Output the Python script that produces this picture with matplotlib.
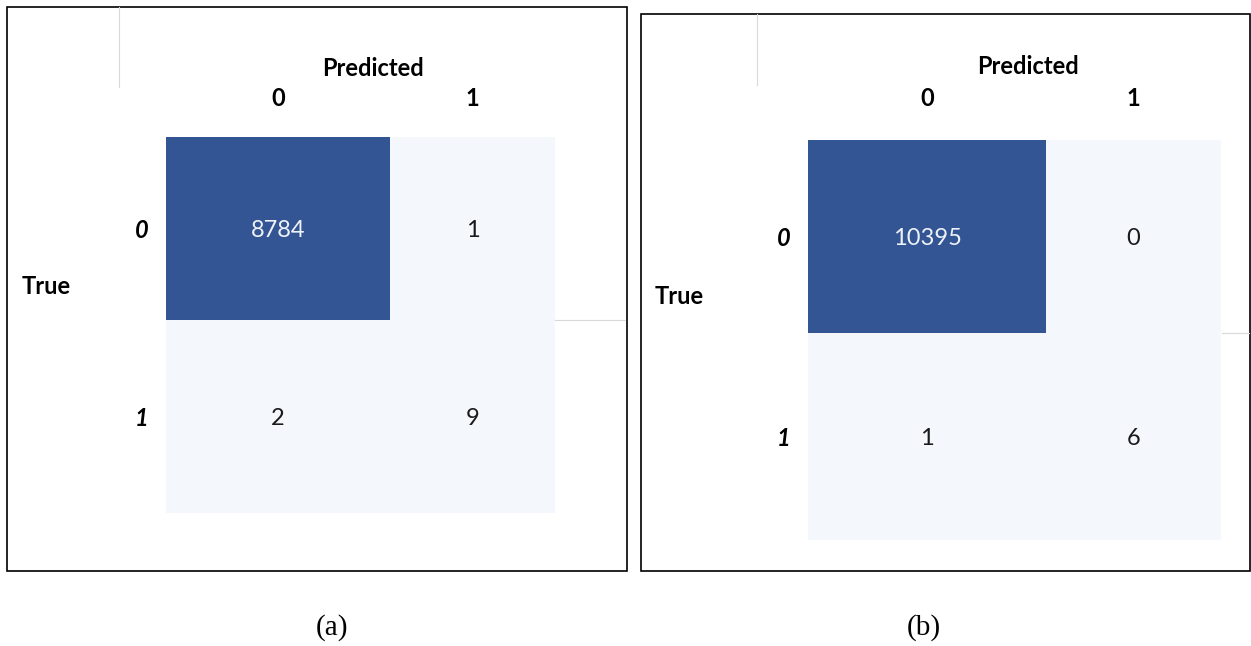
import numpy as np
import matplotlib.pyplot as plt
from matplotlib.colors import LinearSegmentedColormap
from matplotlib.patches import Rectangle
from matplotlib.lines import Line2D
from matplotlib.transforms import blended_transform_factory

plt.rcParams['font.family'] = ['Lato', 'DejaVu Sans']

W, H = 1251, 646  # output size in pixels

classes = ['0', '1']
cm_a = np.array([[8784, 1], [2, 9]])
cm_b = np.array([[10395, 0], [1, 6]])
captions = ['(a)', '(b)']

cmap = LinearSegmentedColormap.from_list('blues', ['#f4f7fc', '#335594'])

fig = plt.figure(figsize=(W / 100, H / 100), dpi=100)


def fx(px):
    return px / W


def fy(py):
    return 1 - py / H


def draw_panel(cm, caption, box, cells, colw, rowh, vline, hline, pred_xy, true_xy, caption_x):
    l, t, r, b = box
    # panel frame
    fig.add_artist(Rectangle((fx(l), fy(b)), fx(r - l), (b - t) / H, transform=fig.transFigure,
                             fill=False, ec='black', lw=1.2))
    # faint leftover grid lines
    fig.add_artist(Line2D([fx(vline[0])] * 2, [fy(vline[1]), fy(vline[2])], color='#d9d9d9', lw=0.8))
    fig.add_artist(Line2D([fx(hline[0]), fx(hline[1])], [fy(hline[2])] * 2, color='#d9d9d9', lw=0.8))

    cl, ct, cr, cb = cells
    ax = fig.add_axes([fx(cl), fy(cb), fx(cr - cl), (cb - ct) / H])
    xe = np.concatenate([[0], np.cumsum(colw)])
    ye = np.concatenate([[0], np.cumsum(rowh)])
    ax.pcolormesh(xe, ye, cm, cmap=cmap, vmin=0, vmax=cm.max())
    ax.set_xlim(xe[0], xe[-1])
    ax.set_ylim(ye[-1], ye[0])
    ax.set_axis_off()
    xc = (xe[:-1] + xe[1:]) / 2
    yc = (ye[:-1] + ye[1:]) / 2
    for i in range(cm.shape[0]):
        for j in range(cm.shape[1]):
            v = cm[i, j]
            ax.text(xc[j], yc[i] + 2, str(v), ha='center', va='center', fontsize=17,
                    color='#eef2f9' if v > cm.max() / 2 else '#1a1a1a')

    # column labels above, row labels left
    tx = blended_transform_factory(ax.transData, fig.transFigure)
    for x, c in zip(xc, classes):
        ax.text(x, fy(98), c, transform=tx, ha='center', va='center', fontsize=17,
                fontweight='bold', clip_on=False)
    ty = blended_transform_factory(fig.transFigure, ax.transData)
    for y, c in zip(yc, classes):
        ax.text(fx(cl - 24), y + 2, c, transform=ty, ha='center', va='center', fontsize=17,
                fontweight='bold', fontstyle='italic', clip_on=False)

    fig.text(fx(pred_xy[0]), fy(pred_xy[1]), 'Predicted', ha='center', va='center',
             fontsize=17, fontweight='bold')
    fig.text(fx(true_xy[0]), fy(true_xy[1]), 'True', ha='left', va='center',
             fontsize=17, fontweight='bold')
    fig.text(fx(caption_x), fy(628), caption, ha='center', va='center', fontsize=21,
             family='Liberation Serif')


draw_panel(cm_a, captions[0], box=(7, 7, 627, 571), cells=(166, 137, 555, 513),
           colw=[224, 165], rowh=[183, 193], vline=(119, 7, 87), hline=(555, 625, 320),
           pred_xy=(373, 69), true_xy=(22, 286), caption_x=332)
draw_panel(cm_b, captions[1], box=(641, 14, 1250, 571), cells=(808, 140, 1221, 540),
           colw=[238, 175], rowh=[193, 207], vline=(757, 14, 85), hline=(1222, 1249, 333),
           pred_xy=(1028, 67), true_xy=(655, 297), caption_x=924)

fig.savefig('out.png', dpi=100)
